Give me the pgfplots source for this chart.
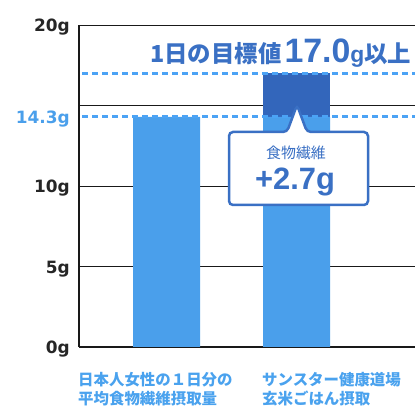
\documentclass[border=0pt]{standalone}
\usepackage{fontspec}
\usepackage{pgfplots}
\pgfplotsset{compat=1.18}
\setmainfont{DejaVu Sans}
\newfontfamily\cjk{Noto Sans CJK JP}
\newfontfamily\numf{DejaVu Sans}
\newfontfamily\bignum{Liberation Sans}
\definecolor{lblue}{HTML}{4A9FEB}
\definecolor{dblue}{HTML}{3366BB}
\definecolor{tblue}{HTML}{3A70C4}
\definecolor{dashc}{HTML}{4BA3F5}
\definecolor{xlab}{HTML}{4AA2EE}
\begin{document}
\begin{tikzpicture}
\useasboundingbox (0,0) rectangle (415bp,408bp);
\clip (0,0) rectangle (415bp,408bp);
\begin{axis}[
  at={(79bp,61bp)}, anchor=south west,
  scale only axis, width=347.5bp, height=322bp,
  xmin=-0.6731, xmax=2.0, ymin=0, ymax=20,
  axis x line*=bottom, axis y line*=left,
  axis line style={line width=2.5bp, black!90, -},
  ymajorgrids, grid style={black!90, line width=0.9bp},
  major tick length=0pt,
  ytick={0,5,10,15,20}, yticklabels={0g,5g,10g,{},20g},
  extra y ticks={14.3}, extra y tick labels={14.3g},
  extra y tick style={grid=none, yticklabel style={text=lblue}},
  yticklabel style={font=\numf\bfseries\fontsize{17}{20}\selectfont, anchor=base east, inner sep=0pt, xshift=-9bp, yshift=-7bp, text=black!85},
  xtick={0,1},
  xticklabels={
    {\hspace*{-88.5bp}\vtop{\baselineskip=19.5bp\hbox{日本人女性の１日分の}\hbox{平均食物繊維摂取量}}},
    {\hspace*{-34.5bp}\vtop{\baselineskip=19.5bp\hbox{サンスター健康道場}\hbox{玄米ごはん摂取}}}
  },
  xticklabel style={anchor=north west, inner sep=0pt, yshift=-25bp, font=\cjk\bfseries\fontsize{15.5}{20}\selectfont, text=xlab},
]
\addplot[ybar, bar width=0.5154, bar shift=0pt, fill=dblue, draw=none] coordinates {(1,17.0)};
\addplot[ybar, bar width=0.5154, bar shift=0pt, fill=lblue, draw=none] coordinates {(0,14.3) (1,14.3)};
\addplot[dashc, line width=2.8bp, dash pattern=on 6bp off 4bp, forget plot] coordinates {(-0.65,14.3) (2,14.3)};
\addplot[dashc, line width=2.8bp, dash pattern=on 6bp off 4bp, forget plot] coordinates {(-0.65,17.0) (2,17.0)};
\end{axis}
\node[anchor=base west, inner sep=0pt, text=tblue] at (150bp,345bp) {{\cjk\bfseries\fontsize{23.5}{25}\selectfont 1日の目標値}\hspace{3bp}{\bignum\bfseries\fontsize{34}{36}\selectfont 17.0}{\bignum\bfseries\fontsize{23}{25}\selectfont g}{\cjk\bfseries\fontsize{23.5}{25}\selectfont 以上}};
\draw[tblue, line width=2.5bp, fill=white, rounded corners=4bp] (229bp,276bp) -- (287bp,276bp) -- (297bp,303bp) -- (307bp,276bp) -- (368bp,276bp) -- (368bp,203bp) -- (229bp,203bp) -- cycle;
\node[anchor=base, inner sep=0pt, text=tblue] at (296bp,249bp) {\cjk\fontsize{15}{17}\selectfont 食物繊維};
\node[anchor=base, inner sep=0pt, text=tblue] at (295bp,218bp) {\bignum\bfseries\fontsize{31}{33}\selectfont +2.7g};
\end{tikzpicture}
\end{document}
